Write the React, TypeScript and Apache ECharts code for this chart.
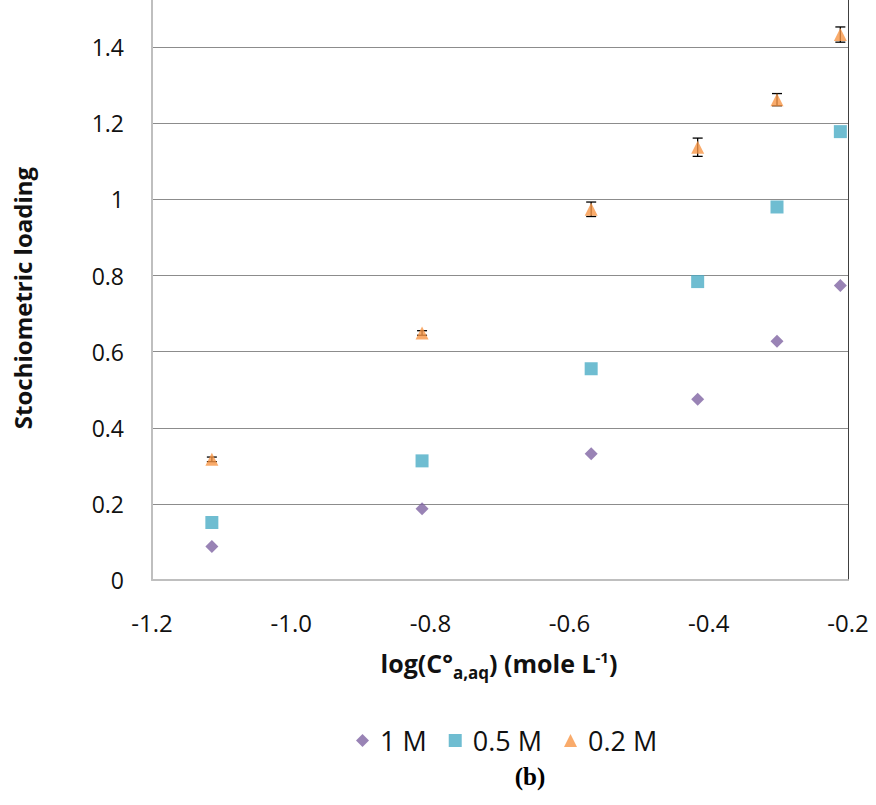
import React, { useEffect, useRef } from "react";
import * as echarts from "echarts";

// log of the initial aqueous concentration, mole L-1
const logConc = [-1.114, -0.812, -0.569, -0.416, -0.302, -0.211];
// stochiometric loading per solvent concentration
const loading1M = [0.088, 0.187, 0.332, 0.475, 0.627, 0.774];
const loading05M = [0.151, 0.313, 0.555, 0.784, 0.98, 1.178];
const loading02M = [0.317, 0.649, 0.974, 1.137, 1.262, 1.433];
const error02M = [0.006, 0.006, 0.019, 0.024, 0.016, 0.02];

const seriesNames = ["1 M", "0.5 M", "0.2 M"];
const yTicks = { min: 0, max: 1.6, interval: 0.2 };
const xTicks = { min: -1.2, max: -0.2, interval: 0.2 };

const FONT = "'Open Sans', 'Noto Sans', sans-serif";
// the canvas starts above the page so the top of the value range runs off it
const SHIFT = 29;

export default function App() {
  const ref = useRef<HTMLDivElement>(null);

  useEffect(() => {
    if (!ref.current) return;
    const chart = echarts.init(ref.current, undefined, { renderer: "svg" });

    const pairs = (ys: number[]) => logConc.map((x, i) => [x, ys[i]]);
    const errData = logConc.map((x, i) => [
      x,
      loading02M[i] - error02M[i],
      loading02M[i] + error02M[i],
    ]);

    chart.setOption({
      animation: false,
      backgroundColor: "#ffffff",
      grid: { left: 152, right: 28, top: 0, bottom: 225, containLabel: false },
      xAxis: {
        type: "value",
        min: xTicks.min,
        max: xTicks.max,
        interval: xTicks.interval,
        axisLine: { show: true, onZero: false, lineStyle: { color: "#bfbfbf", width: 2 } },
        axisTick: { show: false },
        splitLine: { show: false },
        axisLabel: {
          margin: 30,
          color: "#111",
          fontSize: 24,
          fontFamily: FONT,
          formatter: (v: number) => v.toFixed(1),
        },
      },
      yAxis: [
        {
          type: "value",
          min: yTicks.min,
          max: yTicks.max,
          interval: yTicks.interval,
          axisLine: { show: true, lineStyle: { color: "#bfbfbf", width: 2 } },
          axisTick: { show: false },
          splitLine: { show: true, lineStyle: { color: "#8c8c8c", width: 1 } },
          axisLabel: {
            margin: 28,
            color: "#111",
            fontSize: 23,
            fontFamily: FONT,
            formatter: (v: number) => (v > 1.5 ? "" : String(parseFloat(v.toFixed(1)))),
          },
        },
        {
          type: "value",
          position: "right",
          min: yTicks.min,
          max: yTicks.max,
          interval: yTicks.interval,
          axisLine: { show: true, lineStyle: { color: "#404040", width: 1 } },
          axisTick: { show: false },
          axisLabel: { show: false },
          splitLine: { show: false },
        },
      ],
      legend: {
        data: seriesNames,
        left: 351,
        top: 722 + SHIFT,
        itemWidth: 13,
        itemHeight: 13,
        itemGap: 22,
        textStyle: { fontSize: 27, color: "#111", fontFamily: FONT, padding: [0, 0, 0, 6] },
      },
      series: [
        {
          name: "0.2 M error",
          type: "custom",
          z: 1,
          data: errData,
          encode: { x: 0, y: [1, 2] },
          renderItem: (_params: any, api: any) => {
            const x = api.value(0);
            const top = api.coord([x, api.value(2)]);
            const bot = api.coord([x, api.value(1)]);
            const cap = 5;
            const style = { stroke: "#000", lineWidth: 1.3 };
            return {
              type: "group",
              children: [
                { type: "line", shape: { x1: top[0], y1: top[1], x2: bot[0], y2: bot[1] }, style },
                { type: "line", shape: { x1: top[0] - cap, y1: top[1], x2: top[0] + cap, y2: top[1] }, style },
                { type: "line", shape: { x1: bot[0] - cap, y1: bot[1], x2: bot[0] + cap, y2: bot[1] }, style },
              ],
            };
          },
        },
        {
          name: "1 M",
          type: "scatter",
          z: 3,
          symbol: "diamond",
          symbolSize: 13,
          itemStyle: { color: "#8064A2" },
          data: pairs(loading1M),
        },
        {
          name: "0.5 M",
          type: "scatter",
          z: 3,
          symbol: "rect",
          symbolSize: 13,
          itemStyle: { color: "#4BACC6" },
          data: pairs(loading05M),
        },
        {
          name: "0.2 M",
          type: "scatter",
          z: 3,
          symbol: "triangle",
          symbolSize: 13,
          itemStyle: { color: "#F79646" },
          data: pairs(loading02M),
        },
      ],
      graphic: [
        {
          type: "text",
          x: 22,
          y: 298 + SHIFT,
          rotation: Math.PI / 2,
          style: {
            text: "Stochiometric loading",
            fontSize: 24,
            fontWeight: "bold",
            fontFamily: FONT,
            fill: "#111",
            align: "center",
            verticalAlign: "middle",
          },
        },
        {
          type: "text",
          x: 499,
          y: 663 + SHIFT,
          style: {
            text: "{m|log(C°}{sub|a,aq}{m|) (mole L}{sup|-1}{m|)}",
            align: "center",
            verticalAlign: "middle",
            rich: {
              m: { fontSize: 25, fontWeight: "bold", fontFamily: FONT, fill: "#111", lineHeight: 36, verticalAlign: "middle" },
              sub: { fontSize: 17, fontWeight: "bold", fontFamily: FONT, fill: "#111", lineHeight: 17, verticalAlign: "bottom" },
              sup: { fontSize: 15, fontWeight: "bold", fontFamily: FONT, fill: "#111", lineHeight: 15, verticalAlign: "top", padding: [4, 0, 0, 0] },
            },
          },
        },
        {
          type: "text",
          x: 530,
          y: 776 + SHIFT,
          style: {
            text: "(b)",
            fontSize: 25,
            fontWeight: "bold",
            fontFamily: "'Liberation Serif', 'DejaVu Serif', serif",
            fill: "#000",
            align: "center",
            verticalAlign: "middle",
          },
        },
      ],
    });

    return () => chart.dispose();
  }, []);

  return (
    <div
      ref={ref}
      style={{ position: "absolute", left: 0, top: -SHIFT, width: 876, height: 805 + SHIFT }}
    />
  );
}
